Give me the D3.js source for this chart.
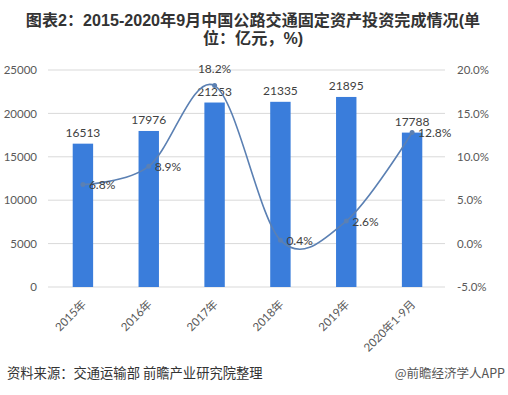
<!DOCTYPE html>
<html><head><meta charset="utf-8">
<script src="https://cdn.jsdelivr.net/npm/d3@7"></script>
<style>body{margin:0;background:#fff}svg{display:block}</style>
</head><body>
<script>
const categories = ["2015年","2016年","2017年","2018年","2019年","2020年1-9月"];
const investment = [16513,17976,21253,21335,21895,17788];
const growth = [6.8,8.9,18.2,0.4,2.6,12.8];
const leftTicks = [0,5000,10000,15000,20000,25000];
const rightTicks = [-5,0,5,10,15,20];
const titleLines = ["图表2：2015-2020年9月中国公路交通固定资产投资完成情况(单","位：亿元，%)"];
const source = "资料来源：交通运输部 前瞻产业研究院整理";
const credit = "@前瞻经济学人APP";

const W=508,H=395;
const svg=d3.select("body").append("svg").attr("width",W).attr("height",H);
const font="'Noto Sans CJK SC','Noto Sans',sans-serif";

svg.selectAll("text.title").data(titleLines).enter().append("text")
 .attr("x",253).attr("y",(d,i)=>26+i*18).attr("text-anchor","middle")
 .attr("font-family","'Liberation Sans','Noto Sans CJK SC',sans-serif").attr("font-weight","bold").attr("font-size",16.1)
 .attr("fill","#333").text(d=>d);

const x=d3.scaleBand().domain(categories).range([50,445]).paddingInner(0.69).paddingOuter(0.345);
const y=d3.scaleLinear().domain([0,25000]).range([287,70]);
const y2=d3.scaleLinear().domain([-5,20]).range([287,70]);

// gridlines
svg.append("g").selectAll("line").data(leftTicks).enter().append("line")
 .attr("x1",48).attr("x2",445).attr("y1",d=>y(d)).attr("y2",d=>y(d))
 .attr("stroke","#d9d9d9").attr("stroke-width",1);

// left axis
const ga=svg.append("g").attr("transform","translate(40,0)")
 .call(d3.axisLeft(y).tickValues(leftTicks).tickSize(0).tickPadding(3).tickFormat(d3.format("d")));
ga.select(".domain").remove();
ga.selectAll("text").attr("font-family","Lato, 'Noto Sans',sans-serif").attr("font-size",11.5).attr("fill","#595959");

// right axis
const gr=svg.append("g").attr("transform","translate(455,0)")
 .call(d3.axisRight(y2).tickValues(rightTicks).tickSize(0).tickPadding(2).tickFormat(d=>d.toFixed(1)+"%"));
gr.select(".domain").remove();
gr.selectAll("text").attr("font-family","Lato, 'Noto Sans',sans-serif").attr("font-size",11.5).attr("fill","#595959");

// bars
svg.append("g").selectAll("rect").data(investment).enter().append("rect")
 .attr("x",(d,i)=>x(categories[i])).attr("width",x.bandwidth())
 .attr("y",d=>y(d)).attr("height",d=>y(0)-y(d)).attr("fill","#3a7ddb");

// bar labels
svg.append("g").selectAll("text").data(investment).enter().append("text")
 .attr("x",(d,i)=>x(categories[i])+x.bandwidth()/2).attr("y",d=>y(d)-7)
 .attr("text-anchor","middle").attr("font-family","Lato, 'Noto Sans',sans-serif").attr("font-size",12)
 .attr("fill","#404040").text(d=>d);

// x labels
svg.append("g").selectAll("text").data(categories).enter().append("text")
 .attr("transform",(d)=>`translate(${x(d)+x.bandwidth()/2+4},${305}) rotate(-45)`)
 .attr("text-anchor","end").attr("font-family","Lato,'Noto Sans CJK SC',sans-serif").attr("font-size",11.5)
 .attr("fill","#595959").text(d=>d);

// growth line
const cx=i=>x(categories[i])+x.bandwidth()/2;
const line=d3.line().x((d,i)=>cx(i)).y(d=>y2(d)).curve(d3.curveCardinal.tension(0));
svg.append("path").datum(growth).attr("d",line).attr("fill","none")
 .attr("stroke","#5b80b3").attr("stroke-width",1.6);
svg.append("g").selectAll("circle").data(growth).enter().append("circle")
 .attr("cx",(d,i)=>cx(i)).attr("cy",d=>y2(d)).attr("r",2.5).attr("fill","#5b80b3");

// growth labels
svg.append("g").selectAll("text").data(growth).enter().append("text")
 .attr("x",(d,i)=>i===2?cx(i):cx(i)+6)
 .attr("y",(d,i)=>i===2?y2(d)-13:y2(d)+4.5)
 .attr("text-anchor",(d,i)=>i===2?"middle":"start")
 .attr("font-family","Lato, 'Noto Sans',sans-serif").attr("font-size",12)
 .attr("fill","#404040").text(d=>d.toFixed(1)+"%");

// footer
svg.append("text").attr("x",7).attr("y",378).attr("font-family",font).attr("font-size",13.3)
 .attr("fill","#333").text(source);
svg.append("text").attr("x",505).attr("y",378).attr("text-anchor","end").attr("font-family",font).attr("font-size",12.5)
 .attr("fill","#555").text(credit);
</script>
</body></html>
